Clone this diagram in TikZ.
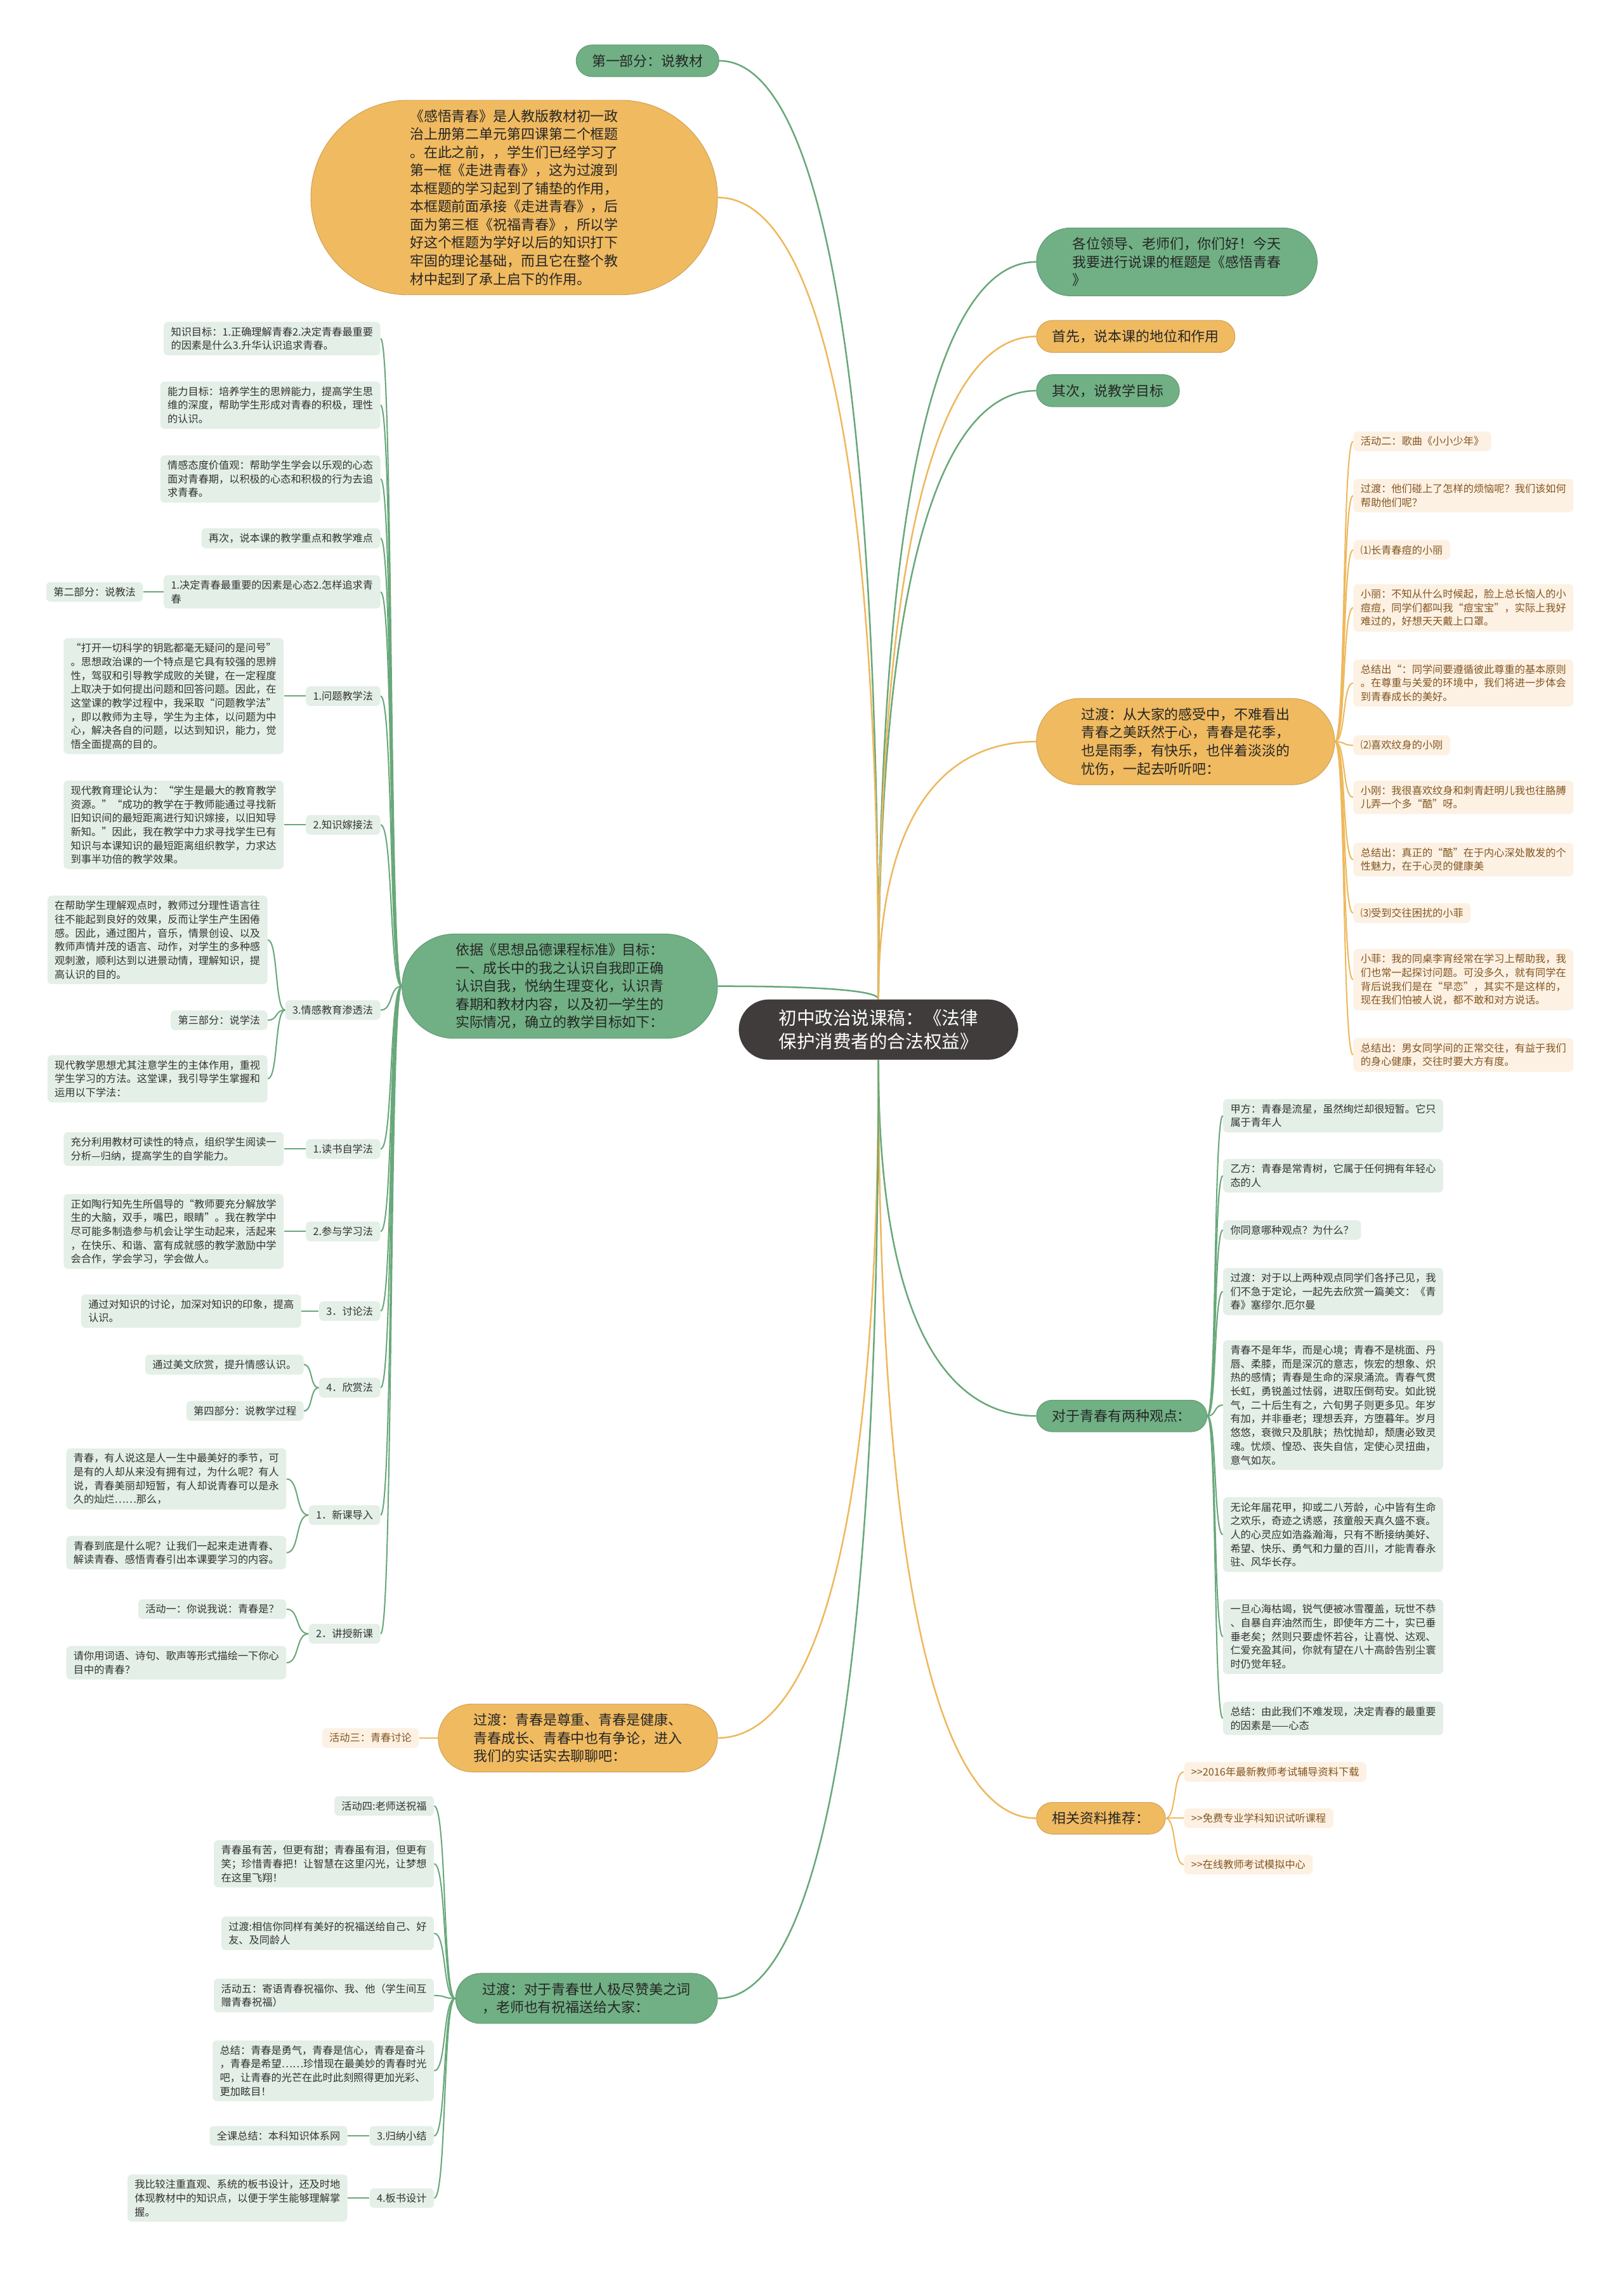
\documentclass[tikz,border=0pt]{standalone}
\usepackage{fontspec}
\setmainfont{Noto Sans CJK SC}
\usepackage{tikz}
\usetikzlibrary{positioning, shapes.misc, backgrounds, calc}
\definecolor{mapgreen}{RGB}{112,176,132}
\definecolor{maporange}{RGB}{240,186,96}
\definecolor{rootgray}{RGB}{64,60,59}
\definecolor{leafgreen}{RGB}{228,239,231}
\definecolor{leaforange}{RGB}{253,241,227}
\definecolor{linegreen}{RGB}{104,168,122}
\definecolor{lineorange}{RGB}{238,184,92}
\definecolor{inkbrown}{RGB}{130,86,34}
\definecolor{inkgray}{RGB}{51,51,51}

\tikzset{
  rootbox/.style={rounded rectangle, fill=rootgray, text=white, align=left,
    font=\fontsize{12.5pt}{16pt}\selectfont, inner xsep=10pt, inner ysep=7pt,
    minimum width=213pt},
  topg/.style={rounded rectangle, fill=mapgreen, draw=mapgreen!85!black, line width=0.4pt,
    text=black!85, align=left, font=\fontsize{9.6pt}{12.5pt}\selectfont,
    inner xsep=10pt, inner ysep=6.5pt},
  topo/.style={topg, fill=maporange, draw=maporange!85!black},
  leafg/.style={rectangle, rounded corners=3pt, fill=leafgreen, text=inkgray, align=left,
    font=\fontsize{7.1pt}{9.5pt}\selectfont, inner xsep=5pt, inner ysep=3.5pt},
  leafo/.style={leafg, fill=leaforange, text=inkbrown},
  glink/.style={draw=linegreen, line width=0.9pt},
  olink/.style={draw=lineorange, line width=0.9pt},
  vlink/.style={to path={let \p1=(\tikztostart), \p2=(\tikztotarget) in
    .. controls (\x1,{\y1+0.75*(\y2-\y1)}) and ({\x1+0.45*(\x2-\x1)},\y2) .. (\tikztotarget)}},
  hlink/.style={to path={let \p1=(\tikztostart), \p2=(\tikztotarget) in
    .. controls ({\x1+0.6*(\x2-\x1)},\y1) and ({\x1+0.4*(\x2-\x1)},\y2) .. (\tikztotarget)}},
}

\begin{document}
\begin{tikzpicture}[x=1pt, y=-1pt]
  \useasboundingbox (0,0) rectangle (1122,1568);

  % Root
  \node[rootbox] (root) at (607,711.5) {初中政治说课稿：《法律\\保护消费者的合法权益》};

  % Right side
  \node[topg, anchor=west, minimum width=214pt] (hello) at (716,181) {各位领导、老师们，你们好！今天\\我要进行说课的框题是《感悟青春\\》};
  \node[topo, anchor=west] (first) at (716,232.5) {首先，说本课的地位和作用};
  \node[topg, anchor=west] (second) at (716,270) {其次，说教学目标};
  \node[topo, anchor=west, minimum width=226pt] (feel) at (716,512.5) {过渡：从大家的感受中，不难看出\\青春之美跃然于心，青春是花季，\\也是雨季，有快乐，也伴着淡淡的\\忧伤，一起去听听吧：};
  \node[topg, anchor=west] (views) at (716,978.5) {对于青春有两种观点：};
  \node[topo, anchor=west] (refs) at (716,1256.5) {相关资料推荐：};

  % Left side
  \node[topg, anchor=east] (part1) at (497,42) {第一部分：说教材};
  \node[topo, anchor=east, minimum width=301pt] (intro) at (496,136.5) {《感悟青春》是人教版教材初一政\\治上册第二单元第四课第二个框题\\。在此之前，，学生们已经学习了\\第一框《走进青春》，这为过渡到\\本框题的学习起到了铺垫的作用，\\本框题前面承接《走进青春》，后\\面为第三框《祝福青春》，所以学\\好这个框题为学好以后的知识打下\\牢固的理论基础，而且它在整个教\\材中起到了承上启下的作用。};
  \node[topg, anchor=east, minimum width=238pt] (goal) at (496,681.5) {依据《思想品德课程标准》目标：\\一、成长中的我之认识自我即正确\\认识自我，悦纳生理变化，认识青\\春期和教材内容，以及初一学生的\\实际情况，确立的教学目标如下：};
  \node[topo, anchor=east, minimum width=213pt] (talk) at (496,1201) {过渡：青春是尊重、青春是健康、\\青春成长、青春中也有争论，进入\\我们的实话实去聊聊吧：};
  \node[topg, anchor=east, minimum width=201pt] (wish) at (496,1381) {过渡：对于青春世人极尽赞美之词\\，老师也有祝福送给大家：};

  % Goals and methods
  \node[leafg, anchor=east] (aim1) at (263,234) {知识目标：1.正确理解青春2.决定青春最重要\\的因素是什么3.升华认识追求青春。};
  \node[leafg, anchor=east] (aim2) at (263,280) {能力目标：培养学生的思辨能力，提高学生思\\维的深度，帮助学生形成对青春的积极，理性\\的认识。};
  \node[leafg, anchor=east] (aim3) at (263,331) {情感态度价值观：帮助学生学会以乐观的心态\\面对青春期，以积极的心态和积极的行为去追\\求青春。};
  \node[leafg, anchor=east] (keypt) at (263,372) {再次，说本课的教学重点和教学难点};
  \node[leafg, anchor=east] (factor) at (263,409) {1.决定青春最重要的因素是心态2.怎样追求青\\春};
  \node[leafg, left=14pt of factor] (part2) {第二部分：说教法};
  \node[leafg, anchor=east] (m1) at (263,481) {1.问题教学法};
  \node[leafg, left=15pt of m1] (m1t) {“打开一切科学的钥匙都毫无疑问的是问号”\\。思想政治课的一个特点是它具有较强的思辨\\性，驾驭和引导教学成败的关键，在一定程度\\上取决于如何提出问题和回答问题。因此，在\\这堂课的教学过程中，我采取“问题教学法”\\，即以教师为主导，学生为主体，以问题为中\\心，解决各自的问题，以达到知识，能力，觉\\悟全面提高的目的。};
  \node[leafg, anchor=east] (m2) at (263,570) {2.知识嫁接法};
  \node[leafg, left=15pt of m2] (m2t) {现代教育理论认为：“学生是最大的教育教学\\资源。”“成功的教学在于教师能通过寻找新\\旧知识间的最短距离进行知识嫁接，以旧知导\\新知。”因此，我在教学中力求寻找学生已有\\知识与本课知识的最短距离组织教学，力求达\\到事半功倍的教学效果。};
  \node[leafg, anchor=east] (m3) at (263,698) {3.情感教育渗透法};
  \node[leafg, anchor=east] (m3a) at (185,649.5) {在帮助学生理解观点时，教师过分理性语言往\\往不能起到良好的效果，反而让学生产生困倦\\感。因此，通过图片，音乐，情景创设、以及\\教师声情并茂的语言、动作，对学生的多种感\\观刺激，顺利达到以进景动情，理解知识，提\\高认识的目的。};
  \node[leafg, anchor=east] (m3b) at (185,705) {第三部分：说学法};
  \node[leafg, anchor=east] (m3c) at (185,745.5) {现代教学思想尤其注意学生的主体作用，重视\\学生学习的方法。这堂课，我引导学生掌握和\\运用以下学法：};
  \node[leafg, anchor=east] (s1) at (263,794) {1.读书自学法};
  \node[leafg, left=15pt of s1] (s1t) {充分利用教材可读性的特点，组织学生阅读一\\分析—归纳，提高学生的自学能力。};
  \node[leafg, anchor=east] (s2) at (263,851) {2.参与学习法};
  \node[leafg, left=15pt of s2] (s2t) {正如陶行知先生所倡导的“教师要充分解放学\\生的大脑，双手，嘴巴，眼睛”。我在教学中\\尽可能多制造参与机会让学生动起来，活起来\\，在快乐、和谐、富有成就感的教学激励中学\\会合作，学会学习，学会做人。};
  \node[leafg, anchor=east] (s3) at (263,906) {3．讨论法};
  \node[leafg, left=12pt of s3] (s3t) {通过对知识的讨论，加深对知识的印象，提高\\认识。};
  \node[leafg, anchor=east] (s4) at (263,959) {4．欣赏法};
  \node[leafg, anchor=east] (s4a) at (210,943) {通过美文欣赏，提升情感认识。};
  \node[leafg, anchor=east] (s4b) at (210,975) {第四部分：说教学过程};
  \node[leafg, anchor=east] (p1) at (263,1047) {1．新课导入};
  \node[leafg, anchor=east] (p1a) at (198,1022) {青春，有人说这是人一生中最美好的季节，可\\是有的人却从来没有拥有过，为什么呢？有人\\说，青春美丽却短暂，有人却说青春可以是永\\久的灿烂……那么，};
  \node[leafg, anchor=east] (p1b) at (198,1073) {青春到底是什么呢？让我们一起来走进青春、\\解读青春、感悟青春引出本课要学习的内容。};
  \node[leafg, anchor=east] (p2) at (263,1129) {2．讲授新课};
  \node[leafg, anchor=east] (p2a) at (198,1112) {活动一：你说我说：青春是？};
  \node[leafg, anchor=east] (p2b) at (198,1149) {请你用词语、诗句、歌声等形式描绘一下你心\\目中的青春？};

  % Stories
  \node[leafo, anchor=west] (song) at (935,305) {活动二：歌曲《小小少年》};
  \node[leafo, anchor=west] (ask) at (935,342.5) {过渡：他们碰上了怎样的烦恼呢？我们该如何\\帮助他们呢？};
  \node[leafo, anchor=west] (li) at (935,380) {⑴长青春痘的小丽};
  \node[leafo, anchor=west] (lisay) at (935,420) {小丽：不知从什么时候起，脸上总长恼人的小\\痘痘，同学们都叫我“痘宝宝”，实际上我好\\难过的，好想天天戴上口罩。};
  \node[leafo, anchor=west] (sum1) at (935,472) {总结出“：同学间要遵循彼此尊重的基本原则\\。在尊重与关爱的环境中，我们将进一步体会\\到青春成长的美好。};
  \node[leafo, anchor=west] (gang) at (935,515) {⑵喜欢纹身的小刚};
  \node[leafo, anchor=west] (gangsay) at (935,551) {小刚：我很喜欢纹身和刺青赶明儿我也往胳膊\\儿弄一个多“酷”呀。};
  \node[leafo, anchor=west] (sum2) at (935,594) {总结出：真正的“酷”在于内心深处散发的个\\性魅力，在于心灵的健康美};
  \node[leafo, anchor=west] (fei) at (935,631) {⑶受到交往困扰的小菲};
  \node[leafo, anchor=west] (feisay) at (935,677) {小菲：我的同桌李宵经常在学习上帮助我，我\\们也常一起探讨问题。可没多久，就有同学在\\背后说我们是在“早恋”，其实不是这样的，\\现在我们怕被人说，都不敢和对方说话。};
  \node[leafo, anchor=west] (sum3) at (935,729) {总结出：男女同学间的正常交往，有益于我们\\的身心健康，交往时要大方有度。};

  % Two views
  \node[leafg, anchor=west] (va) at (845,771) {甲方：青春是流星，虽然绚烂却很短暂。它只\\属于青年人};
  \node[leafg, anchor=west] (vb) at (845,812.5) {乙方：青春是常青树，它属于任何拥有年轻心\\态的人};
  \node[leafg, anchor=west] (vq) at (845,850) {你同意哪种观点？为什么？};
  \node[leafg, anchor=west] (vt) at (845,892.5) {过渡：对于以上两种观点同学们各抒己见，我\\们不急于定论，一起先去欣赏一篇美文：《青\\春》塞缪尔.厄尔曼};
  \node[leafg, anchor=west] (poem1) at (845,971) {青春不是年华，而是心境；青春不是桃面、丹\\唇、柔膝，而是深沉的意志，恢宏的想象、炽\\热的感情；青春是生命的深泉涌流。青春气贯\\长虹，勇锐盖过怯弱，进取压倒苟安。如此锐\\气，二十后生有之，六旬男子则更多见。年岁\\有加，并非垂老；理想丢弃，方堕暮年。岁月\\悠悠，衰微只及肌肤；热忱抛却，颓唐必致灵\\魂。忧烦、惶恐、丧失自信，定使心灵扭曲，\\意气如灰。};
  \node[leafg, anchor=west] (poem2) at (845,1060.5) {无论年届花甲，抑或二八芳龄，心中皆有生命\\之欢乐，奇迹之诱惑，孩童般天真久盛不衰。\\人的心灵应如浩淼瀚海，只有不断接纳美好、\\希望、快乐、勇气和力量的百川，才能青春永\\驻、风华长存。};
  \node[leafg, anchor=west] (poem3) at (845,1131) {一旦心海枯竭，锐气便被冰雪覆盖，玩世不恭\\、自暴自弃油然而生，即使年方二十，实已垂\\垂老矣；然则只要虚怀若谷，让喜悦、达观、\\仁爱充盈其间，你就有望在八十高龄告别尘寰\\时仍觉年轻。};
  \node[leafg, anchor=west] (vsum) at (845,1187.5) {总结：由此我们不难发现，决定青春的最重要\\的因素是——心态};

  % Links list
  \node[leafo, anchor=west] (ref1) at (818,1224.5) {>{}>2016年最新教师考试辅导资料下载};
  \node[leafo, anchor=west] (ref2) at (818,1256.5) {>{}>免费专业学科知识试听课程};
  \node[leafo, anchor=west] (ref3) at (818,1288.5) {>{}>在线教师考试模拟中心};

  % Discussion and wishes
  \node[leafo, left=13pt of talk] (act3) {活动三：青春讨论};
  \node[leafg, anchor=east] (w1) at (300,1248) {活动四:老师送祝福};
  \node[leafg, anchor=east] (w2) at (300,1288) {青春虽有苦，但更有甜；青春虽有泪，但更有\\笑；珍惜青春把！让智慧在这里闪光，让梦想\\在这里飞翔！};
  \node[leafg, anchor=east] (w3) at (300,1336) {过渡:相信你同样有美好的祝福送给自己、好\\友、及同龄人};
  \node[leafg, anchor=east] (w4) at (300,1379) {活动五：寄语青春祝福你、我、他（学生间互\\赠青春祝福）};
  \node[leafg, anchor=east] (w5) at (300,1431) {总结：青春是勇气，青春是信心，青春是奋斗\\，青春是希望……珍惜现在最美妙的青春时光\\吧，让青春的光芒在此时此刻照得更加光彩、\\更加眩目！};
  \node[leafg, anchor=east] (sumup) at (300,1476) {3.归纳小结};
  \node[leafg, left=15pt of sumup] (sumupt) {全课总结：本科知识体系网};
  \node[leafg, anchor=east] (board) at (300,1519) {4.板书设计};
  \node[leafg, left=15pt of board] (boardt) {我比较注重直观、系统的板书设计，还及时地\\体现教材中的知识点，以便于学生能够理解掌\\握。};

  \begin{scope}[on background layer]
    \fill[white] (0,0) rectangle (1122,1568);
    % root branches
    \foreach \kid in {hello,second}
      \draw[glink, line width=1.1pt] (root.north) to[vlink] (\kid.west);
    \foreach \kid in {first,feel}
      \draw[olink, line width=1.1pt] (root.north) to[vlink] (\kid.west);
    \draw[glink, line width=1.1pt] (root.south) to[vlink] (views.west);
    \draw[olink, line width=1.1pt] (root.south) to[vlink] (refs.west);
    \foreach \kid in {part1,goal}
      \draw[glink, line width=1.1pt] (root.north) to[vlink] (\kid.east);
    \draw[olink, line width=1.1pt] (root.north) to[vlink] (intro.east);
    \draw[olink, line width=1.1pt] (root.south) to[vlink] (talk.east);
    \draw[glink, line width=1.1pt] (root.south) to[vlink] (wish.east);
    % leaves
    \foreach \kid in {aim1,aim2,aim3,keypt,factor,m1,m2,m3,s1,s2,s3,s4,p1,p2}
      \draw[glink] (goal.west) to[hlink] (\kid.east);
    \foreach \mom/\kid in {factor/part2, m1/m1t, m2/m2t, m3/m3a, m3/m3b, m3/m3c,
        s1/s1t, s2/s2t, s3/s3t, s4/s4a, s4/s4b, p1/p1a, p1/p1b, p2/p2a, p2/p2b,
        sumup/sumupt, board/boardt}
      \draw[glink] (\mom.west) to[hlink] (\kid.east);
    \foreach \kid in {song,ask,li,lisay,sum1,gang,gangsay,sum2,fei,feisay,sum3}
      \draw[olink] (feel.east) to[hlink] (\kid.west);
    \foreach \kid in {va,vb,vq,vt,poem1,poem2,poem3,vsum}
      \draw[glink] (views.east) to[hlink] (\kid.west);
    \foreach \kid in {ref1,ref2,ref3}
      \draw[olink] (refs.east) to[hlink] (\kid.west);
    \draw[olink] (talk.west) to[hlink] (act3.east);
    \foreach \kid in {w1,w2,w3,w4,w5,sumup,board}
      \draw[glink] (wish.west) to[hlink] (\kid.east);
  \end{scope}
\end{tikzpicture}
\end{document}
